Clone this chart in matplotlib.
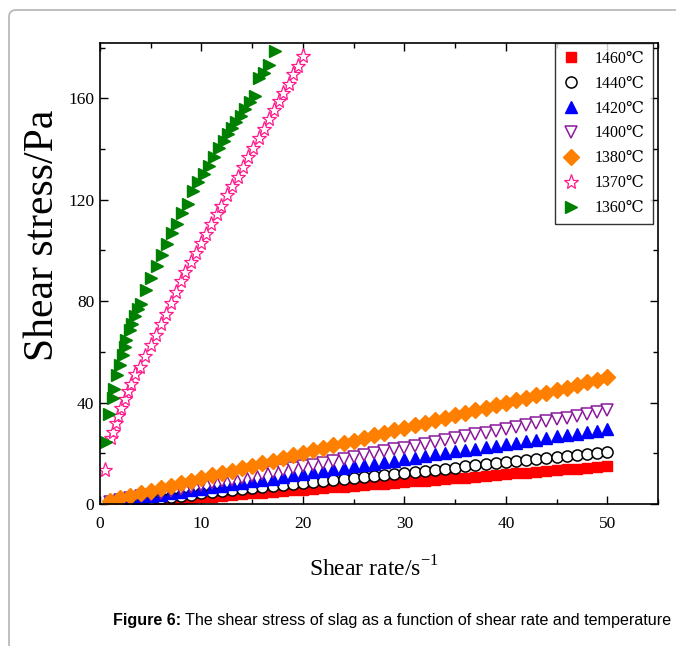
import matplotlib
matplotlib.use("Agg")
import matplotlib.pyplot as plt
from matplotlib.patches import FancyBboxPatch
from matplotlib.ticker import MultipleLocator
from matplotlib.transforms import IdentityTransform

plt.rcParams["font.family"] = ["Liberation Serif", "DejaVu Serif"]
plt.rcParams["mathtext.fontset"] = "custom"
plt.rcParams["mathtext.rm"] = "Liberation Serif"

# shear rate for the five linear curves
rate = list(range(1, 51))

s1460 = [0.2, 0.4, 0.6, 0.9, 1.1, 1.4, 1.7, 2.0, 2.3, 2.6,
         2.9, 3.2, 3.5, 3.8, 4.1, 4.4, 4.7, 5.0, 5.3, 5.6,
         5.9, 6.2, 6.5, 6.8, 7.1, 7.4, 7.7, 8.0, 8.3, 8.6,
         8.9, 9.2, 9.5, 9.8, 10.1, 10.4, 10.7, 11.0, 11.3, 11.6,
         12.0, 12.3, 12.6, 12.9, 13.3, 13.6, 13.9, 14.2, 14.6, 14.9]
s1440 = [0.4, 0.8, 1.2, 1.6, 2.0, 2.5, 2.9, 3.3, 3.7, 4.1,
         4.5, 4.9, 5.3, 5.7, 6.1, 6.6, 7.0, 7.4, 7.8, 8.2,
         8.6, 9.0, 9.4, 9.8, 10.2, 10.7, 11.1, 11.5, 11.9, 12.3,
         12.7, 13.1, 13.5, 13.9, 14.3, 14.8, 15.2, 15.6, 16.0, 16.4,
         16.8, 17.2, 17.6, 18.0, 18.4, 18.9, 19.3, 19.7, 20.1, 20.5]
s1420 = [0.6, 1.2, 1.8, 2.4, 3.0, 3.5, 4.1, 4.7, 5.3, 5.9,
         6.5, 7.1, 7.7, 8.3, 8.9, 9.4, 10.0, 10.6, 11.2, 11.8,
         12.4, 13.0, 13.6, 14.2, 14.8, 15.3, 15.9, 16.5, 17.1, 17.7,
         18.3, 18.9, 19.5, 20.1, 20.7, 21.2, 21.8, 22.4, 23.0, 23.6,
         24.2, 24.8, 25.4, 26.0, 26.6, 27.1, 27.7, 28.3, 28.9, 29.5]
s1400 = [0.7, 1.5, 2.2, 3.0, 3.7, 4.4, 5.2, 5.9, 6.7, 7.4,
         8.1, 8.9, 9.6, 10.4, 11.1, 11.8, 12.6, 13.3, 14.1, 14.8,
         15.5, 16.3, 17.0, 17.8, 18.5, 19.2, 20.0, 20.7, 21.5, 22.2,
         22.9, 23.7, 24.4, 25.2, 25.9, 26.6, 27.4, 28.1, 28.9, 29.6,
         30.3, 31.1, 31.8, 32.6, 33.3, 34.0, 34.8, 35.5, 36.3, 37.0]
s1380 = [1.2, 2.2, 3.2, 4.2, 5.2, 6.2, 7.2, 8.2, 9.2, 10.2,
         11.2, 12.2, 13.1, 14.1, 15.1, 16.1, 17.1, 18.1, 19.1, 20.1,
         21.1, 22.1, 23.1, 24.1, 25.0, 26.0, 27.0, 28.0, 29.0, 30.0,
         31.0, 32.0, 33.0, 34.0, 35.0, 36.0, 37.0, 38.0, 38.9, 39.9,
         40.9, 41.9, 42.9, 43.9, 44.9, 45.9, 46.9, 47.9, 48.9, 49.9]

rate1370 = [0.5, 1.08, 1.25, 1.59, 1.75, 2.09, 2.42, 2.74, 3.08, 3.48, 3.9, 4.4,
            5.0, 5.47, 5.99, 6.46, 6.99, 7.46, 7.98, 8.38, 8.95, 9.44, 9.97,
            10.44, 10.96, 11.5, 11.96, 12.5, 13.0, 13.6, 14.08, 14.6, 15.07,
            15.67, 16.16, 16.66, 17.16, 17.6, 18.05, 18.6, 19.05, 19.5, 20.04]
s1370 = [13.4, 25.9, 28.5, 31.8, 34.6, 37.7, 41.2, 44.6, 47.5, 51.1, 54.1, 58.3,
         62.6, 66.5, 70.9, 74.8, 79.3, 83.6, 87.9, 91.5, 95.4, 99.1, 102.9,
         106.6, 110.5, 114.2, 117.7, 121.7, 125.3, 129.1, 132.8, 136.7, 140.4,
         144.4, 147.9, 151.8, 155.4, 159.0, 162.3, 165.6, 169.6, 172.8, 176.8]

rate1360 = [0.6, 0.92, 1.25, 1.42, 1.69, 1.92, 2.25, 2.42, 2.58, 2.91, 3.14,
            3.48, 3.74, 4.08, 4.57, 5.07, 5.57, 6.06, 6.56, 7.05, 7.55, 8.1,
            8.7, 9.2, 9.7, 10.2, 10.7, 11.2, 11.7, 12.2, 12.6, 13.0, 13.4,
            13.85, 14.3, 14.8, 15.3, 15.7, 16.2, 16.66, 17.26]
s1360 = [24.5, 35.4, 41.6, 45.5, 50.8, 54.7, 58.7, 61.9, 64.6, 68.5, 71.1,
         74.0, 76.7, 79.0, 84.3, 89.3, 93.7, 98.4, 102.6, 106.8, 110.5, 114.7,
         118.4, 123.6, 126.9, 130.2, 133.5, 136.7, 140.4, 143.3, 145.9, 148.3, 150.5,
         153.1, 155.8, 158.4, 161.0, 168.2, 170.2, 173.2, 178.7]

labels = ["1460℃", "1440℃", "1420℃", "1400℃", "1380℃", "1370℃", "1360℃"]

fig = plt.figure(figsize=(6.76, 6.46), dpi=100)
ax = fig.add_axes([0.148, 0.22, 0.8254, 0.714])

ax.plot(rate, s1460, ls="none", marker="s", ms=7.5, color="#ff0000", label=labels[0])
ax.plot(rate, s1440, ls="none", marker="o", ms=8, mfc="white", mec="black", mew=1.1, label=labels[1])
ax.plot(rate, s1420, ls="none", marker="^", ms=9, color="#0000ff", label=labels[2])
ax.plot(rate, s1400, ls="none", marker="v", ms=9, mfc="white", mec="#8a1a9c", mew=1.1, label=labels[3])
ax.plot(rate, s1380, ls="none", marker="D", ms=8, color="#ff8000", label=labels[4])
ax.plot(rate1370, s1370, ls="none", marker="*", ms=11, mfc="white", mec="#ff1a8c", mew=0.9, label=labels[5])
ax.plot(rate1360, s1360, ls="none", marker=">", ms=9, color="#008000", label=labels[6])

ax.set_xlim(0, 55)
ax.set_ylim(0, 182)
ax.xaxis.set_major_locator(MultipleLocator(10))
ax.xaxis.set_minor_locator(MultipleLocator(5))
ax.yaxis.set_major_locator(MultipleLocator(40))
ax.yaxis.set_minor_locator(MultipleLocator(20))
ax.tick_params(which="both", direction="in", top=True, right=True, width=1, labelsize=12.5)
ax.tick_params(which="major", length=6)
ax.tick_params(which="minor", length=3.8)
ax.tick_params(axis="x", pad=9)
ax.tick_params(axis="y", pad=4)
for sp in ax.spines.values():
    sp.set_linewidth(1.2)

ax.set_xlabel(r"Shear rate/s$^{\mathrm{-1}}$", fontsize=17)
ax.set_ylabel("Shear stress/Pa", fontsize=30)
ax.xaxis.set_label_coords(0.491, -0.113)
ax.yaxis.set_label_coords(-0.068, 0.583)

leg = ax.legend(loc="upper right", bbox_to_anchor=(0.991, 1.0), borderaxespad=0,
                fontsize=11.5, numpoints=1, handlelength=1.0, handletextpad=1.0,
                labelspacing=0.56, fancybox=False, edgecolor="black",
                borderpad=0.5)
leg.get_frame().set_linewidth(1.0)

# page frame
frame = FancyBboxPatch((9, -30), 720, 666, boxstyle="round,pad=0,rounding_size=7",
                       transform=IdentityTransform(), fill=False,
                       edgecolor="#b4b4b4", linewidth=1.2)
fig.patches.append(frame)

cap_kw = dict(fontsize=11.6, family="Liberation Sans", va="center")
t1 = fig.text(113 / 676, 25 / 646, "Figure 6:", weight="bold", **cap_kw)
fig.canvas.draw()
bb = t1.get_window_extent()
fig.text((bb.x1 + 4) / 676, 25 / 646,
         "The shear stress of slag as a function of shear rate and temperature", **cap_kw)

fig.savefig("out.png", dpi=100)
